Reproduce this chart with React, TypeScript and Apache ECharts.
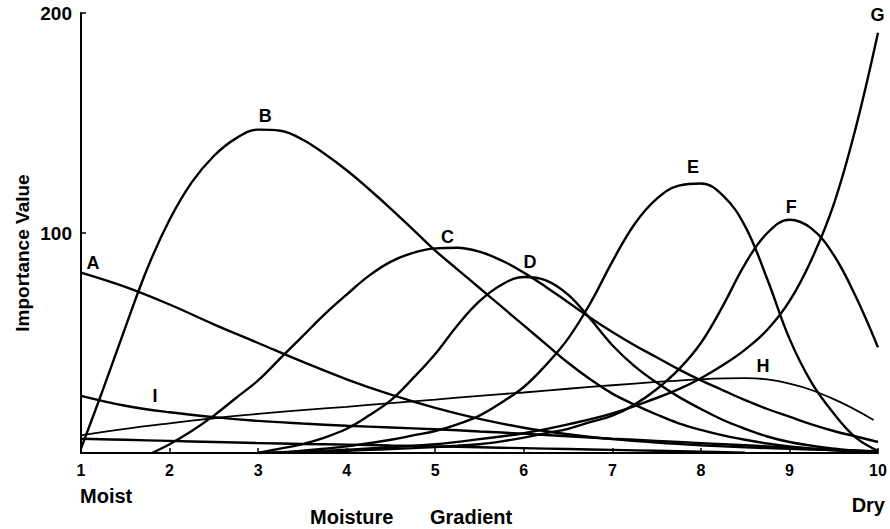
import React, { useEffect, useRef } from "react";
import * as echarts from "echarts";

const curveA = [[1,82],[1.5,75.5],[2,67.5],[2.5,58.5],[3,50],[3.5,41.5],[4,33.5],[4.5,26.5],[5,20.5],[5.5,15.5],[6,11.5],[6.5,8.5],[7,6.3],[7.5,4.7],[8,3.5],[8.5,2.6],[9,1.9],[9.5,1.3],[10,0.8]];
const curveB = [[1,2],[1.25,29],[1.5,57],[1.75,84],[2,106],[2.25,123],[2.5,135],[2.75,143],[3,147],[3.25,146.5],[3.5,142.5],[3.75,136],[4,128.5],[4.25,120],[4.5,111],[4.75,101.5],[5,92],[5.25,83.5],[5.5,75],[5.75,66.5],[6,58],[6.25,49.5],[6.5,41],[6.75,33.5],[7,27],[7.25,22],[7.5,17.5],[7.75,13.5],[8,10.5],[8.25,8],[8.5,6],[8.75,4.3],[9,3],[9.25,2],[9.5,1.2],[9.75,0.6],[10,0.2]];
const curveC = [[1.8,0],[2,4],[2.25,10],[2.5,17],[2.75,25],[3,33],[3.25,43],[3.5,53],[3.75,63],[4,72],[4.25,80.5],[4.5,87],[4.75,91],[5,93],[5.25,93.3],[5.5,91.5],[5.75,87.5],[6,82],[6.25,75.5],[6.5,68.5],[6.75,61.5],[7,55],[7.25,49],[7.5,43.5],[7.75,38],[8,33],[8.25,28.5],[8.5,24],[8.75,20],[9,16.5],[9.25,13],[9.5,10],[9.75,7.5],[10,5]];
const curveD = [[3,0],[3.25,2],[3.5,4],[3.75,7],[4,11],[4.25,17],[4.5,24],[4.75,34],[5,45],[5.25,58],[5.5,69],[5.75,76.5],[6,80],[6.25,78.5],[6.5,72],[6.75,61],[7,49],[7.25,39.5],[7.5,32],[7.75,25.5],[8,20],[8.25,15],[8.5,11],[8.75,7.5],[9,5],[9.25,3.3],[9.5,2],[9.75,1],[10,0.5]];
const curveE = [[3.25,0],[3.5,1],[3.75,2],[4,3],[4.25,4.5],[4.5,6],[4.75,8],[5,10],[5.25,13],[5.5,17],[5.75,23],[6,30],[6.25,40],[6.5,52],[6.75,68],[7,87],[7.25,104],[7.5,115.5],[7.75,121.5],[8,122.5],[8.25,117],[8.5,103],[8.75,79],[9,52],[9.25,32],[9.5,18],[9.75,7],[10,1]];
const curveF = [[3.5,0],[3.75,0.5],[4,1],[4.25,1.4],[4.5,1.8],[4.75,2.2],[5,2.7],[5.25,3.3],[5.5,4],[5.75,5.3],[6,7],[6.25,9],[6.5,11],[6.75,14],[7,17],[7.25,22],[7.5,29],[7.75,38],[8,50],[8.25,67],[8.5,86],[8.75,100],[9,106],[9.25,102],[9.5,90],[9.75,71],[10,48]];
const curveG = [[3,0],[3.5,0.7],[4,1.5],[4.5,2.7],[5,4],[5.5,6.3],[6,9],[6.5,13],[7,18],[7.5,25],[7.75,29],[8,34],[8.25,40],[8.5,47],[8.75,56],[9,69],[9.25,88],[9.5,113],[9.75,148],[10,191]];
const curveH = [[1,8],[1.5,11],[2,13.5],[2.5,15.8],[3,17.8],[3.5,19.5],[4,21],[4.5,22.7],[5,24.3],[5.5,26],[6,27.5],[6.5,29.2],[7,30.8],[7.5,32.3],[8,33.5],[8.5,34],[9,31.5],[9.5,24.5],[9.95,15]];
const curveI = [[1,26],[1.5,21.5],[2,18.5],[2.5,16.3],[3,14.6],[3.5,13.4],[4,12.4],[4.5,11.6],[5,10.8],[5.5,9.8],[6,8.8],[6.5,7.6],[7,6.5],[7.5,5.5],[8,4.5],[8.5,3.5],[9,2.5],[9.5,1.5],[10,0.6]];
const curveJ = [[1,6.5],[1.5,6],[2,5.5],[2.5,5],[3,4.5],[3.5,4.1],[4,3.8],[4.5,3.4],[5,3],[5.5,2.6],[6,2.2],[6.5,1.8],[7,1.4],[7.5,1],[8,0.6],[8.5,0.1]];

const curveNames = ["A", "B", "C", "D", "E", "F", "G", "H", "I", "J"];
const curves = [curveA, curveB, curveC, curveD, curveE, curveF, curveG, curveH, curveI, curveJ];
const curveLabels = [
  { name: "A", value: [1.135, 86.4] },
  { name: "B", value: [3.08, 153] },
  { name: "C", value: [5.14, 98] },
  { name: "D", value: [6.07, 87] },
  { name: "E", value: [7.91, 130] },
  { name: "F", value: [9.02, 112] },
  { name: "G", value: [9.995, 199] },
  { name: "H", value: [8.7, 39.5] },
  { name: "I", value: [1.835, 25.9] },
];
const xTicks = [1, 10, 1];
const yTicks = [0, 200, 100];

const FONT = "'Liberation Sans', Arial, Helvetica, sans-serif";

export default function App() {
  const ref = useRef<HTMLDivElement>(null);
  useEffect(() => {
    if (!ref.current) return;
    const chart = echarts.init(ref.current, null, { renderer: "svg" });
    const lineSeries = curves.map((c, i) => ({
      type: "line",
      name: curveNames[i],
      data: c,
      smooth: 0.4,
      showSymbol: false,
      symbol: "none",
      lineStyle: { color: "#000", width: curveNames[i] === "H" ? 1.8 : 2.4 },
      silent: true,
      z: 2,
    }));
    chart.setOption({
      animation: false,
      backgroundColor: "#fff",
      grid: { left: 81, right: 12, top: 13, bottom: 76, containLabel: false },
      xAxis: {
        type: "value",
        min: xTicks[0],
        max: xTicks[1],
        interval: xTicks[2],
        axisLine: { show: true, lineStyle: { color: "#000", width: 2 } },
        axisTick: { show: true, inside: true, length: 5, lineStyle: { color: "#000", width: 1.5 } },
        axisLabel: { color: "#000", fontFamily: FONT, fontWeight: "bold", fontSize: 16, margin: 9 },
        splitLine: { show: false },
      },
      yAxis: {
        type: "value",
        min: yTicks[0],
        max: yTicks[1],
        interval: yTicks[2],
        axisLine: { show: true, lineStyle: { color: "#000", width: 2 } },
        axisTick: { show: true, inside: true, length: 5, lineStyle: { color: "#000", width: 1.5 } },
        axisLabel: {
          color: "#000",
          fontFamily: FONT,
          fontWeight: "bold",
          fontSize: 19,
          margin: 9,
          formatter: (v: number) => (v === 0 ? "" : String(v)),
        },
        splitLine: { show: false },
      },
      series: [
        ...lineSeries,
        {
          type: "scatter",
          data: curveLabels,
          symbolSize: 0,
          silent: true,
          z: 3,
          itemStyle: { opacity: 1, color: "#000" },
          label: {
            show: true,
            position: "inside",
            formatter: (p: any) => p.name,
            color: "#000",
            opacity: 1,
            fontFamily: FONT,
            fontWeight: "bold",
            fontSize: 18,
          },
        },
      ],
      graphic: [
        {
          type: "text",
          x: 22,
          y: 253,
          rotation: Math.PI / 2,
          style: {
            text: "Importance Value",
            fill: "#000",
            font: `bold 19px ${FONT}`,
            textAlign: "center",
            textVerticalAlign: "middle",
          },
        },
        {
          type: "text",
          x: 80,
          y: 496,
          style: { text: "Moist", fill: "#000", font: `bold 20px ${FONT}`, textAlign: "left", textVerticalAlign: "middle" },
        },
        {
          type: "text",
          x: 885,
          y: 505,
          style: { text: "Dry", fill: "#000", font: `bold 20px ${FONT}`, textAlign: "right", textVerticalAlign: "middle" },
        },
        {
          type: "text",
          x: 310,
          y: 517,
          style: { text: "Moisture", fill: "#000", font: `bold 20px ${FONT}`, textAlign: "left", textVerticalAlign: "middle" },
        },
        {
          type: "text",
          x: 430,
          y: 517,
          style: { text: "Gradient", fill: "#000", font: `bold 20px ${FONT}`, textAlign: "left", textVerticalAlign: "middle" },
        },
      ],
    });
    return () => chart.dispose();
  }, []);
  return (
    <div
      ref={ref}
      style={{ position: "fixed", left: 0, top: 0, width: 890, height: 529, background: "#fff" }}
    />
  );
}
